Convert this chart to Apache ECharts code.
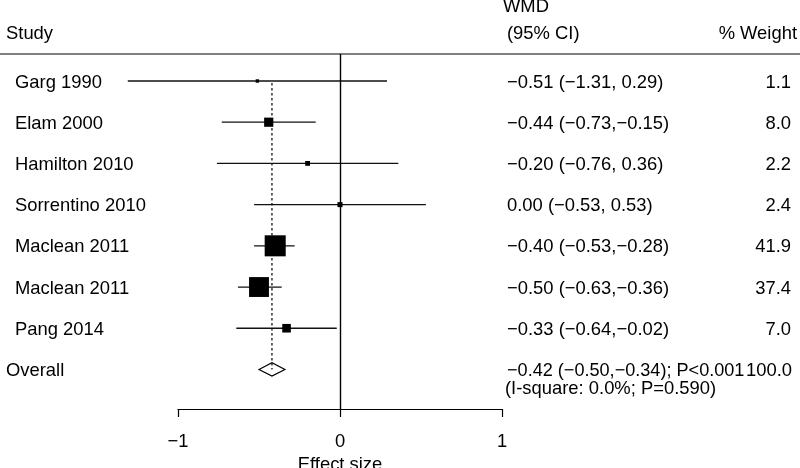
<!DOCTYPE html>
<html><head><meta charset="utf-8">
<script src="https://cdn.jsdelivr.net/npm/echarts@6/dist/echarts.min.js"></script>
<style>html,body{margin:0;padding:0;background:#fff}#c{width:800px;height:468px}</style>
</head><body><div id="c"></div>
<script>
const studies = ['Garg 1990','Elam 2000','Hamilton 2010','Sorrentino 2010','Maclean 2011','Maclean 2011','Pang 2014'];
const wmd    = [-0.51,-0.44,-0.20, 0.00,-0.40,-0.50,-0.33];
const ciLow  = [-1.31,-0.73,-0.76,-0.53,-0.53,-0.63,-0.64];
const ciHigh = [ 0.29,-0.15, 0.36, 0.53,-0.28,-0.36,-0.02];
const weights = [1.1, 8.0, 2.2, 2.4, 41.9, 37.4, 7.0];
const ciText = ['−0.51 (−1.31, 0.29)','−0.44 (−0.73,−0.15)','−0.20 (−0.76, 0.36)','0.00 (−0.53, 0.53)','−0.40 (−0.53,−0.28)','−0.50 (−0.63,−0.36)','−0.33 (−0.64,−0.02)'];
const weightText = ['1.1','8.0','2.2','2.4','41.9','37.4','7.0'];
const overallLabel = 'Overall';
const overallEst = -0.42, overallLow = -0.50, overallHigh = -0.34;
const overallText = '−0.42 (−0.50,−0.34); P<0.001';
const overallWeight = '100.0';
const hetText = '(I-square: 0.0%; P=0.590)';
const xTicks = [-1, 0, 1];
const headers = {study:'Study', wmd:'WMD', ci:'(95% CI)', weight:'% Weight'};
const xName = 'Effect size';

const FONT = 'Liberation Sans, Arial, Helvetica, sans-serif';
const FS = 18.4;
const overallRow = studies.length;

const chart = echarts.init(document.getElementById('c'));

function txt(x, y, text, align, fs) {
  return {type:'text', x:x, y:y, style:{text:text, fontSize:fs||FS, fontFamily:FONT, fill:'#000', align:align||'left', verticalAlign:'middle'}};
}

const studyData = studies.map((s,i)=>[wmd[i], i, ciLow[i], ciHigh[i], weights[i]]);
const textData = studies.map((s,i)=>[0, i]).concat([[0, overallRow]]);

chart.setOption({
  animation:false,
  grid:{left:178, right:298, top:54, bottom:59, outerBoundsMode:'none', containLabel:false},
  xAxis:{type:'value', min:xTicks[0], max:xTicks[xTicks.length-1], interval:1,
    axisLine:{show:true, onZero:false, lineStyle:{color:'#000', width:1.2}},
    axisTick:{show:true, length:8, lineStyle:{color:'#000', width:1.2}},
    axisLabel:{fontSize:FS, fontFamily:FONT, color:'#000', margin:24,
      formatter:v=>String(v).replace('-', '−')},
    splitLine:{show:false},
    name:xName, nameLocation:'middle', nameGap:43,
    nameTextStyle:{fontSize:FS, fontFamily:FONT, color:'#000'}
  },
  yAxis:{type:'value', inverse:true, min:-0.655, max:7.96, show:false},
  graphic:[
    {type:'line', shape:{x1:0, y1:54, x2:800, y2:54}, style:{stroke:'#000', lineWidth:1.2}},
    txt(6, 34, headers.study),
    txt(503, 7, headers.wmd),
    txt(507, 34, headers.ci),
    txt(797, 34, headers.weight, 'right')
  ],
  series:[
    {
      type:'custom', clip:false, z:3,
      data:studyData,
      encode:{x:0, y:1},
      renderItem:(params, api)=>{
        const y = api.value(1);
        const c = api.coord([api.value(0), y]);
        const l = api.coord([api.value(2), y]);
        const h = api.coord([api.value(3), y]);
        const s = 3.25*Math.sqrt(api.value(4));
        return {type:'group', children:[
          {type:'line', shape:{x1:l[0], y1:l[1], x2:h[0], y2:h[1]}, style:{stroke:'#111', lineWidth:1.3}},
          {type:'rect', shape:{x:c[0]-s/2, y:c[1]-s/2, width:s, height:s}, style:{fill:'#000'}}
        ]};
      },
      markLine:{silent:true, symbol:'none', label:{show:false},
        lineStyle:{color:'#000', width:1.4, type:'solid'},
        data:[{xAxis:0}]}
    },
    {
      type:'custom', clip:false, z:2,
      data:[[overallEst, overallRow, overallLow, overallHigh]],
      encode:{x:0, y:1},
      renderItem:(params, api)=>{
        const y = api.value(1);
        const c = api.coord([api.value(0), y]);
        const top = api.coord([api.value(0), 0]);
        const l = api.coord([api.value(2), y]);
        const h = api.coord([api.value(3), y]);
        const hh = 6.7;
        return {type:'group', children:[
          {type:'line', shape:{x1:c[0], y1:top[1]+2, x2:c[0], y2:c[1]}, style:{stroke:'#000', lineWidth:1.2, lineDash:[2.5,2.5]}},
          {type:'polygon', shape:{points:[[l[0],c[1]],[c[0],c[1]-hh],[h[0],c[1]],[c[0],c[1]+hh]]}, style:{fill:'none', stroke:'#000', lineWidth:1.2}}
        ]};
      }
    },
    {
      type:'custom', clip:false, z:4,
      data:textData,
      encode:{x:0, y:1},
      renderItem:(params, api)=>{
        const i = params.dataIndex;
        const y = api.coord([0, api.value(1)])[1] + 1.5;
        if (i < studies.length) {
          return {type:'group', children:[
            txt(15, y, studies[i]),
            txt(507, y, ciText[i]),
            txt(791, y, weightText[i], 'right')
          ]};
        }
        return {type:'group', children:[
          txt(6, y, overallLabel),
          txt(507, y, overallText, 'left', 18.1),
          txt(792, y, overallWeight, 'right'),
          txt(505, y+18, hetText)
        ]};
      }
    }
  ]
});
</script></body></html>
